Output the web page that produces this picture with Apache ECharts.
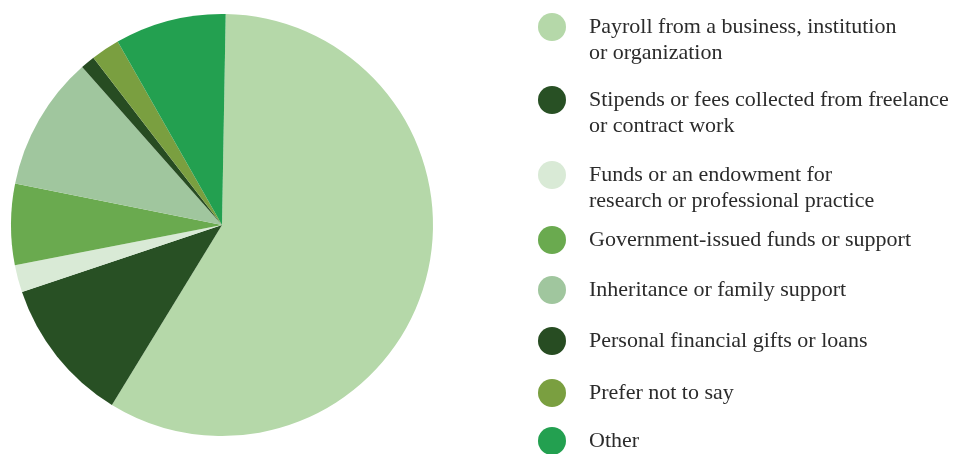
<!DOCTYPE html>
<html>
<head>
<meta charset="utf-8">
<script src="https://cdn.jsdelivr.net/npm/echarts@6/dist/echarts.min.js"></script>
<style>
  html, body { margin: 0; padding: 0; background: #fff; }
  #chart { width: 959px; height: 454px; }
</style>
</head>
<body>
<div id="chart"></div>
<script>
// 数据
var categories = [
  'Payroll from a business, institution\nor organization',
  'Stipends or fees collected from freelance\nor contract work',
  'Funds or an endowment for\nresearch or professional practice',
  'Government-issued funds or support',
  'Inheritance or family support',
  'Personal financial gifts or loans',
  'Prefer not to say',
  'Other'
];
var shares = [58.4, 11.1, 2.1, 6.2, 10.3, 1.1, 2.2, 8.5];
var colors = ['#b5d8a9', '#285024', '#d9ead6', '#6aaa4f', '#a0c69e', '#274c22', '#7a9f40', '#23a050'];

// 图例圆点中心的纵坐标
var legendY = [27, 100, 175, 240, 290, 341, 393, 441];

var chart = echarts.init(document.getElementById('chart'));

var legends = [];
for (var i = 0; i < categories.length; i++) {
  var twoLine = categories[i].indexOf('\n') != -1;
  legends.push({
    data: [categories[i]],
    orient: 'vertical',
    left: 538,
    top: legendY[i] - 14 - (twoLine ? 25 : 0),
    padding: 0,
    icon: 'circle',
    itemWidth: 28,
    itemHeight: 28,
    selectedMode: false,
    // 两行的图例：前面加一个空行，让第一行与圆点对齐
    formatter: function(name) {
      return name.indexOf('\n') != -1 ? ' \n' + name : name;
    },
    textStyle: {
      fontFamily: 'Liberation Serif',
      fontSize: 22,
      lineHeight: 26,
      color: '#2b2b2b',
      padding: [0, 0, 0, 18]
    }
  });
}

var data = [];
for (var j = 0; j < categories.length; j++) {
  data.push({ name: categories[j], value: shares[j], itemStyle: { color: colors[j] } });
}

chart.setOption({
  animation: false,
  legend: legends,
  series: [{
    type: 'pie',
    center: [222, 225],
    radius: [0, 211],
    startAngle: 89,
    clockwise: true,
    label: { show: false },
    labelLine: { show: false },
    emphasis: { disabled: true },
    itemStyle: { borderWidth: 0 },
    data: data
  }]
});
</script>
</body>
</html>
